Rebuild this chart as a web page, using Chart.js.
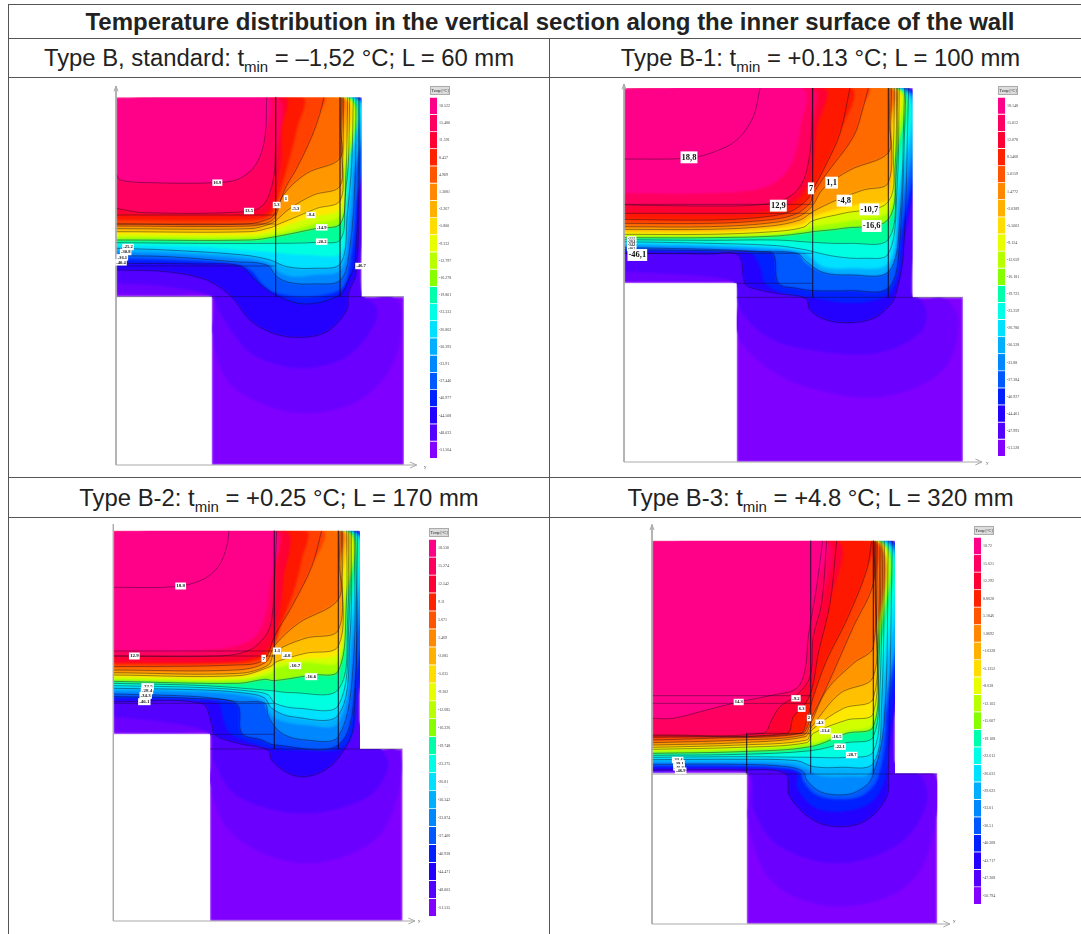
<!DOCTYPE html>
<html>
<head>
<meta charset="utf-8">
<title>Temperature distribution</title>
<script src="https://cdn.jsdelivr.net/npm/chart.js@4"></script>
<style>
  html, body { margin: 0; padding: 0; background: #fff; overflow: hidden; }
  body { width: 1081px; height: 934px; position: relative; font-family: "Liberation Sans", Arial, sans-serif; color: #222; }
  table { position: absolute; left: 8px; top: 4px; width: 1083px; border-collapse: collapse; table-layout: fixed; }
  td { border: 1.5px solid #555; text-align: center; padding: 0; font-size: 23.85px; white-space: nowrap; }
  td.head { font-weight: bold; font-size: 24px; height: 33px; }
  td.sub { height: 38px; }
  td.sub.second { height: 39px; }
  td.plot { height: 399px; }
  td.plot.last { height: 480px; }
  sub { font-size: 15px; line-height: 0; }
  canvas { position: absolute; }
  .field { filter: blur(1px); }
  .lines { filter: blur(0.45px); }
  .scaleName { position: absolute; background: #ddd; border: 0.5px solid #aaa; font: 4px "Liberation Serif", serif; line-height: 7px; height: 7px; width: 18px; text-align: center; filter: blur(0.2px); }
  .axisName { position: absolute; font: 5px "Liberation Serif", serif; color: #555; }
</style>
</head>
<body>
<table>
  <colgroup><col style="width:541px"><col style="width:542px"></colgroup>
  <tr><td class="head" colspan="2">Temperature distribution in the vertical section along the inner surface of the wall</td></tr>
  <tr><td class="sub">Type B, standard: t<sub>min</sub> = –1,52 °C; L = 60 mm</td><td class="sub">Type B-1: t<sub>min</sub> = +0.13 °C; L = 100 mm</td></tr>
  <tr><td class="plot"></td><td class="plot"></td></tr>
  <tr><td class="sub second">Type B-2: t<sub>min</sub> = +0.25 °C; L = 170 mm</td><td class="sub second">Type B-3: t<sub>min</sub> = +4.8 °C; L = 320 mm</td></tr>
  <tr><td class="plot last"></td><td class="plot last"></td></tr>
</table>
<script>
// swatch colours of the temperature scale, warm to cold
const bandColors = ['#ff0088','#ff0060','#ff0034','#ff2200','#ff5500','#ff8800','#ffb000','#ffdd00','#e8ff00','#b8ff00','#88ff00','#00ffaa','#00ffe6','#00e0ff','#00b0ff','#0088ff','#0058ff','#0020ff','#2400ff','#5400ff','#8400ff'];
// same order, but as they look in the field between two traced isotherms
const fieldColors = ['#ff0088','#ff0060','#ff0034','#ff1800','#ff4000','#ff6a00','#ff9800','#ffc000','#ffe800','#d0ff00','#a0ff00','#00ff99','#00ffe0','#00e0ff','#00b0ff','#0088ff','#0058ff','#0020ff','#2400ff','#5400ff','#6c00ff','#8000ff'];

// scale labels next to each colour bar
const p1Scale = ['18.522','15.480','11.591','8.437','4.909','1.3081','-2.267','-5.800','-9.332','-12.797','-16.278','-19.801','-23.333','-26.862','-30.393','-33.91','-37.446','-40.977','-44.508','-48.033','-51.564'];
const p2Scale = ['18.148','15.012','12.078','8.5468','5.0159','1.4772','-2.0389','-5.5003','-9.124','-12.659','-16.181','-19.723','-23.259','-26.780','-30.328','-33.88','-37.384','-40.927','-44.461','-47.993','-51.528'];
const p3Scale = ['18.530','15.274','12.542','9.11','5.671','1.469','-2.085','-5.635','-9.202','-12.685','-16.226','-19.748','-23.275','-26.81','-30.342','-33.874','-37.406','-40.938','-44.471','-48.003','-51.535'];
const p4Scale = ['18.72','15.621','12.292','8.8628','5.1846','1.8692','-1.6328','-5.1352','-8.638','-12.103','-15.607','-19.108','-22.613','-26.033','-29.622','-33.01','-36.51','-40.208','-43.717','-47.208','-50.794'];

// wall and slab outline, isotherm traces (warm to cold) in drawing units
const p1Outline = [[48,52],[785,52],[785,650],[912,650],[912,1155],[335,1155],[335,650],[48,650]];
const p1Isotherms = [
  [[48,280],[60,300],[150,308],[350,308],[420,295],[470,250],[495,170],[500,52]],
  [[48,385],[130,398],[440,395],[490,375],[515,320],[525,250],[527,52]],
  [[48,405],[450,405],[500,398],[520,370],[535,300],[545,230],[545,150],[552,52]],
  [[48,420],[440,420],[505,408],[530,365],[550,300],[570,230],[590,150],[605,52]],
  [[48,432],[440,432],[510,415],[527,395],[558,320],[590,265],[635,170],[660,100],[672,52]],
  [[48,438],[450,438],[510,425],[527,408],[550,345],[620,280],[720,235],[722,150],[724,52]],
  [[48,446],[450,446],[510,432],[527,422],[570,385],[640,345],[720,318],[724,200],[727,52]],
  [[48,455],[450,455],[515,442],[527,436],[590,410],[650,385],[720,362],[728,250],[731,52]],
  [[48,464],[450,464],[520,452],[527,448],[633,412],[720,385],[731,250],[735,52]],
  [[48,472],[450,472],[527,462],[640,432],[722,405],[734,280],[739,52]],
  [[48,480],[450,480],[527,470],[650,445],[722,430],[737,300],[743,52]],
  [[48,488],[300,490],[527,490],[650,487],[722,478],[735,350],[745,250],[749,52]],
  [[48,496],[310,500],[430,510],[527,518],[620,525],[722,518],[738,380],[750,250],[755,52]],
  [[48,505],[200,510],[430,525],[510,540],[560,560],[640,565],[722,550],[742,400],[755,250],[760,52]],
  [[48,515],[200,520],[430,535],[505,550],[535,575],[580,590],[640,585],[722,570],[745,450],[760,300],[764,52]],
  [[48,527],[200,530],[400,545],[500,555],[530,590],[570,608],[640,612],[722,600],[750,500],[765,300],[768,52]],
  [[48,537],[200,540],[400,552],[450,570],[490,615],[530,640],[620,650],[720,630],[745,580],[767,400],[772,52]],
  [[48,550],[300,552],[420,558],[465,600],[527,645],[615,672],[720,645],[745,600],[765,550],[775,300],[775,52]],
  [[48,570],[200,575],[320,600],[395,650],[450,720],[520,760],[600,772],[680,755],[740,690],[745,640],[768,580],[778,300],[778,52]],
  [[48,610],[200,620],[335,650],[360,700],[440,810],[520,850],[620,865],[740,830],[820,740],[830,680],[795,650],[783,600],[782,52]],
  [[48,640],[200,645],[335,650],[335,760],[380,900],[480,970],[620,1000],[780,960],[880,850],[905,700],[880,650],[785,640],[784,52]]
];
const p1Contours = [0,1,4,5,6,7,10,11,13,15,17,18];
const p1Layers = [
  [[527,52],[527,650]],[[720,52],[720,650]],
  [[48,405],[527,405]],[[48,432],[527,432]],[[48,558],[527,558]],[[48,650],[912,650]]
];
const p1Axes = [[[48,18],[48,1155],[950,1155]],[[42,34],[48,18],[54,34]],[[930,1146],[950,1155],[930,1164]]];
const p1LabelX = [352,447,530,558,587,633,665,665,783,84,77,67,63];
const p1LabelY = [308,393,375,355,385,405,442,485,558,501,516,532,547];
const p1LabelText = ['16.9','13.5','5.3','1','-5.3','-8.4','-14.9','-20.2','-46.7','-25.2','-30.8','-36.1','-40.4'];
const p1LabelSize = [4.6,4.6,4.6,4.6,4.6,4.6,4.6,4.6,4.6,4.6,4.6,4.6,4.6];

const p2Outline = [[42,24],[908,24],[908,652],[1059,652],[1059,1146],[380,1146],[380,610],[42,610]];
const p2Isotherms = [
  [[42,340],[300,340],[470,320],[540,260],[570,150],[575,24]],
  [[42,375],[300,378],[440,375],[520,360],[570,320],[595,250],[605,150],[608,24]],
  [[42,400],[300,403],[440,398],[530,378],[580,340],[608,270],[620,150],[640,24]],
  [[42,418],[300,420],[450,412],[540,395],[590,360],[608,330],[650,250],[690,160],[720,24]],
  [[42,430],[300,430],[450,422],[550,405],[600,370],[608,345],[650,280],[730,170],[760,80],[775,24]],
  [[42,440],[300,440],[470,430],[560,412],[605,380],[640,325],[720,270],[835,218],[838,130],[840,24]],
  [[42,448],[300,448],[480,438],[570,420],[608,395],[680,360],[760,330],[835,308],[842,130],[845,24]],
  [[42,456],[300,456],[480,446],[575,432],[608,410],[690,385],[760,370],[835,355],[848,150],[850,24]],
  [[42,463],[300,463],[490,455],[580,442],[608,422],[700,400],[835,365],[850,200],[853,24]],
  [[42,468],[300,468],[500,462],[590,448],[608,440],[700,425],[835,392],[853,200],[856,24]],
  [[42,473],[300,473],[500,468],[590,458],[608,455],[700,445],[835,418],[856,250],[860,24]],
  [[42,479],[300,481],[500,480],[608,487],[720,490],[835,478],[858,300],[863,24]],
  [[42,485],[300,490],[500,497],[590,510],[608,515],[680,530],[760,535],[835,522],[860,350],[868,24]],
  [[42,491],[300,496],[500,505],[580,516],[600,530],[640,560],[720,565],[835,550],[862,380],[873,24]],
  [[42,497],[300,502],[480,510],[560,518],[590,550],[640,575],[720,583],[835,573],[865,420],[878,24]],
  [[42,503],[300,508],[460,515],[560,520],[590,545],[640,578],[720,585],[835,576],[868,440],[884,24]],
  [[42,509],[300,512],[450,516],[490,522],[505,610],[560,625],[608,632],[720,632],[835,625],[868,500],[888,24]],
  [[42,514],[300,516],[420,518],[450,560],[465,610],[520,640],[595,652],[700,668],[800,660],[850,630],[875,520],[892,24]],
  [[42,520],[300,522],[385,525],[405,610],[430,625],[500,640],[588,655],[600,690],[650,720],[720,728],[790,715],[835,680],[855,650],[880,520],[896,24]],
  [[42,575],[300,590],[372,610],[385,680],[470,770],[600,810],[800,820],[930,760],[950,700],[930,655],[908,640],[904,24]],
  [[42,605],[300,608],[380,611],[380,760],[480,870],[620,930],[820,950],[1000,870],[1045,720],[1000,652],[908,650],[906,24]]
];
const p2Contours = [1,3,4,5,6,8,10,11,12,15,16,18];
const p2ExtraLine = [[42,237],[230,235],[300,220],[380,180],[430,110],[450,24]];
const p2Layers = [
  [[608,24],[608,652]],[[835,24],[835,652]],
  [[42,373],[608,373]],[[42,400],[608,400]],[[42,520],[608,520]],[[380,610],[608,610]],[[380,652],[1059,652]]
];
const p2Axes = [[[42,12],[42,1146],[1116,1146]],[[36,28],[42,12],[48,28]],[[1096,1137],[1116,1146],[1096,1155]]];
const p2LabelX = [237,505,603,665,703,778,785,65,65,65,65,82];
const p2LabelY = [232,377,325,308,362,388,438,476,486,496,506,525];
const p2LabelText = ['18,8','12,9','7','1,1','-4,8','-10,7','-16,6','-22,5','-28,4','-34,3','-40,2','-46,1'];
const p2LabelSize = [8.5,8.5,8.5,8.5,8.5,8.5,8.5,3.6,3.6,3.6,3.6,8.5];

const p3Outline = [[25,32],[765,32],[765,687],[893,687],[893,1203],[315,1203],[315,643],[25,643]];
const p3Isotherms = [
  [[25,392],[280,392],[420,370],[470,320],[495,200],[505,32]],
  [[25,408],[340,408],[430,392],[480,350],[500,300],[510,150],[515,32]],
  [[25,428],[380,425],[460,408],[500,370],[520,300],[535,180],[540,32]],
  [[25,433],[385,430],[470,415],[505,380],[530,310],[570,200],[590,120],[600,32]],
  [[25,440],[390,435],[475,420],[510,345],[560,260],[620,140],[650,32]],
  [[25,450],[390,450],[480,428],[510,375],[580,310],[700,238],[703,130],[705,32]],
  [[25,458],[400,460],[490,435],[510,395],[600,355],[700,330],[708,130],[710,32]],
  [[25,465],[400,467],[495,440],[515,425],[600,400],[700,378],[712,170],[713,32]],
  [[25,472],[400,473],[500,447],[510,428],[600,418],[700,397],[715,200],[717,32]],
  [[25,478],[400,480],[500,460],[510,445],[600,428],[700,425],[720,250],[721,32]],
  [[25,484],[400,490],[480,478],[508,482],[620,465],[700,453],[724,250],[725,32]],
  [[25,490],[300,497],[500,512],[560,518],[700,508],[728,300],[730,32]],
  [[25,497],[300,503],[450,515],[490,525],[510,550],[580,565],[700,556],[732,300],[735,32]],
  [[25,505],[300,510],[440,522],[480,535],[500,565],[560,590],[700,585],[735,350],[740,32]],
  [[25,513],[300,517],[420,528],[475,545],[490,575],[520,600],[600,615],[700,610],[738,400],[744,32]],
  [[25,522],[280,530],[400,545],[480,550],[490,590],[530,640],[600,660],[700,650],[745,430],[748,32]],
  [[25,530],[280,536],[395,552],[410,640],[470,660],[508,675],[700,675],[750,500],[752,32]],
  [[25,537],[280,542],[340,550],[355,600],[375,640],[440,670],[500,687],[600,690],[720,680],[755,560],[755,32]],
  [[25,545],[290,550],[320,610],[330,645],[400,670],[490,690],[500,720],[550,760],[600,770],[660,750],[710,700],[745,620],[758,32]],
  [[25,590],[200,610],[315,643],[325,720],[400,830],[600,880],[790,830],[850,740],[830,687],[765,600],[763,32]],
  [[25,635],[200,640],[315,645],[315,800],[390,950],[600,1030],[810,960],[885,800],[880,690],[765,680],[764,32]]
];
const p3Contours = [1,4,5,6,7,10,11,12,13,15,16,18];
const p3ExtraLine = [[25,202],[210,200],[290,180],[340,140],[365,80],[372,32]];
const p3Layers = [
  [[508,32],[508,687]],[[700,32],[700,687]],
  [[25,393],[508,393]],[[25,408],[508,408]],[[25,550],[508,550]],[[315,643],[508,643]],[[315,687],[893,687]]
];
const p3Axes = [[[25,12],[25,1203],[930,1203]],[[910,1194],[930,1203],[910,1212]]];
const p3LabelX = [227,88,476,516,545,570,618,128,126,122,118];
const p3LabelY = [198,408,415,393,406,437,470,500,512,526,545];
const p3LabelText = ['18.8','12.9','7','1.1','-4.8','-10.7','-16.6','-22.5','-28.4','-34.3','-46.1'];
const p3LabelSize = [5,5,5,5,5,5,5,5,5,5,5];

const p4Outline = [[36,62],[765,62],[765,760],[892,760],[892,1212],[320,1212],[320,760],[36,760]];
const p4Isotherms = [
  [[36,595],[100,595],[200,570],[296,546],[400,525],[470,505],[495,450],[505,350],[530,200],[548,62]],
  [[36,645],[370,640],[395,600],[420,560],[470,525],[510,470],[520,350],[545,250],[560,62]],
  [[36,648],[440,640],[460,590],[490,560],[515,510],[535,400],[570,250],[590,62]],
  [[36,652],[480,640],[500,600],[520,530],[560,420],[620,300],[680,150],[695,62]],
  [[36,660],[200,655],[485,640],[510,600],[560,500],[640,320],[700,190],[700,62]],
  [[36,668],[300,660],[490,645],[512,610],[560,510],[640,430],[700,380],[703,62]],
  [[36,675],[300,668],[495,650],[515,620],[600,520],[700,470],[705,200],[706,62]],
  [[36,682],[300,675],[500,660],[515,630],[610,565],[700,535],[707,250],[708,62]],
  [[36,688],[300,682],[500,668],[520,640],[620,600],[700,580],[709,300],[712,62]],
  [[36,694],[300,688],[510,670],[620,635],[700,610],[711,350],[716,62]],
  [[36,700],[300,695],[512,680],[620,640],[700,620],[714,400],[720,62]],
  [[36,706],[300,703],[512,692],[620,668],[700,650],[716,450],[724,62]],
  [[36,712],[300,710],[512,712],[620,712],[700,695],[720,500],[729,62]],
  [[36,719],[300,718],[470,722],[520,740],[600,742],[700,730],[725,550],[734,62]],
  [[36,727],[300,727],[450,732],[500,748],[540,768],[620,770],[690,760],[730,600],[739,62]],
  [[36,733],[300,733],[440,740],[490,755],[500,780],[540,815],[600,825],[650,815],[695,775],[733,600],[745,62]],
  [[36,738],[300,738],[440,745],[480,758],[490,785],[530,825],[600,838],[670,825],[715,770],[738,620],[751,62]],
  [[36,743],[300,744],[430,750],[470,760],[470,800],[520,860],[600,875],[690,850],[735,780],[745,680],[755,62]],
  [[36,750],[300,750],[435,760],[450,830],[520,900],[600,920],[680,900],[740,830],[745,760],[757,62]],
  [[36,757],[320,757],[345,880],[420,980],[600,1030],[780,970],[860,850],[840,762],[765,720],[763,62]],
  [[36,759],[320,759],[322,900],[400,1090],[600,1160],[810,1090],[890,900],[885,762],[765,750],[764,62]]
];
const p4Contours = [0,1,2,3,4,5,6,7,8,10,11,12,13,15,18];
const p4Layers = [
  [[512,62],[512,760]],[[700,62],[700,760]],[[320,640],[320,760]],
  [[36,527],[512,527]],[[36,550],[512,550]],[[320,640],[512,640]],[[36,762],[892,762]]
];
const p4Axes = [[[36,14],[36,1212],[930,1212]],[[30,30],[36,14],[42,30]],[[910,1203],[930,1212],[910,1221]]];
const p4LabelX = [296,468,485,507,540,555,590,600,635,113,117,117,122];
const p4LabelY = [546,535,566,594,608,633,650,680,705,720,730,742,752];
const p4LabelText = ['14.3','-9.2','6.3','2','-4.3','-11.4','-16.5','-22.1','-28.7','-33.4','-39.1','-40.8','-46.9'];
const p4LabelSize = [4.6,4.6,4.6,4.6,4.6,4.6,4.6,4.6,4.6,4.6,4.6,4.6,4.6];

const xy = pts => pts.map(p => ({x: p[0], y: p[1]}));
const curveTension = 0.35;

// white boxed isotherm values, placed through the chart's scales
const contourLabels = {
  id: 'contourLabels',
  afterDatasetsDraw(chart, args, opts) {
    if (!opts.text) return;
    const ctx = chart.ctx;
    ctx.save();
    ctx.textAlign = 'center';
    ctx.textBaseline = 'middle';
    opts.text.forEach((t, i) => {
      const size = opts.sizes[i];
      ctx.font = 'bold ' + size + 'px "Liberation Serif", serif';
      const px = chart.scales.x.getPixelForValue(opts.xs[i]);
      const py = chart.scales.y.getPixelForValue(opts.ys[i]);
      const w = ctx.measureText(t).width + 2;
      ctx.fillStyle = '#fff';
      ctx.fillRect(px - w / 2, py - size * 0.7, w, size * 1.4);
      ctx.fillStyle = '#111';
      ctx.fillText(t, px, py);
    });
    ctx.restore();
  }
};

function sectionChart(cfg, cls, datasets, labelOpts) {
  const box = cfg.box;
  const canvas = document.createElement('canvas');
  canvas.className = cls;
  canvas.width = box[2];
  canvas.height = box[3];
  canvas.style.left = box[0] + 'px';
  canvas.style.top = box[1] + 'px';
  document.body.appendChild(canvas);
  new Chart(canvas, {
    type: 'scatter',
    data: {datasets: datasets},
    plugins: [contourLabels],
    options: {
      responsive: false,
      animation: false,
      events: [],
      layout: {padding: 0, autoPadding: false},
      scales: {
        x: {type: 'linear', display: false, min: (box[0] - cfg.origin[0]) * 3, max: (box[0] + box[2] - cfg.origin[0]) * 3},
        y: {type: 'linear', display: false, reverse: true, min: (box[1] - cfg.origin[1]) * 3, max: (box[1] + box[3] - cfg.origin[1]) * 3}
      },
      plugins: {
        legend: {display: false},
        tooltip: {enabled: false},
        filler: {propagate: false},
        contourLabels: labelOpts
      }
    }
  });
}

function drawField(cfg) {
  const box = cfg.box;
  const filled = (pts, color, order, t) => ({data: xy(pts), showLine: true, fill: 'shape', backgroundColor: color, borderWidth: 0, pointRadius: 0, tension: t, order: order});
  const stroke = (pts, color, width, order, t) => ({data: xy(pts), showLine: true, fill: false, borderColor: color, borderWidth: width, pointRadius: 0, tension: t, order: order});

  // coldest colour is the whole section, warmer polygons go on top of it
  const fills = [filled(cfg.outline, fieldColors[21], 100, 0)];
  const corner = cfg.outline[0];
  cfg.isotherms.forEach((line, i) => {
    fills.push(filled(line.concat([corner]), fieldColors[i], 20 + i, curveTension));
  });
  sectionChart(cfg, 'field', fills, {});

  const lines = [];
  cfg.contours.forEach(i => lines.push(stroke(cfg.isotherms[i], 'rgba(20,10,30,0.65)', 0.65, 10, curveTension)));
  if (cfg.extra) lines.push(stroke(cfg.extra, 'rgba(20,10,30,0.65)', 0.65, 10, curveTension));

  // white sheet with the section cut out, hides whatever runs past the outline
  const xMin = (box[0] - cfg.origin[0]) * 3, xMax = (box[0] + box[2] - cfg.origin[0]) * 3;
  const yMin = (box[1] - cfg.origin[1]) * 3, yMax = (box[1] + box[3] - cfg.origin[1]) * 3;
  const sheet = cfg.outline.concat([corner, [xMin, yMin], [xMin, yMax], [xMax, yMax], [xMax, yMin], [xMin, yMin], corner]);
  lines.push(filled(sheet, '#fff', 5, 0));

  cfg.layers.forEach(l => lines.push(stroke(l, 'rgba(20,10,40,0.6)', 0.7, 4, 0)));
  cfg.axes.forEach(l => lines.push(stroke(l, '#aaa', 1, 3, 0)));
  sectionChart(cfg, 'lines', lines, {xs: cfg.labelX, ys: cfg.labelY, text: cfg.labelText, sizes: cfg.labelSize});
}

function drawScale(left, barTop, barHeight, labels) {
  // chart keeps about 5px above and below the bar for its tick labels
  const top = barTop - 5;
  const canvas = document.createElement('canvas');
  canvas.width = 36;
  canvas.height = barHeight + 10;
  canvas.style.left = left + 'px';
  canvas.style.top = top + 'px';
  canvas.style.filter = 'blur(0.3px)';
  document.body.appendChild(canvas);
  new Chart(canvas, {
    type: 'bar',
    data: {
      labels: ['Temp'],
      datasets: bandColors.map(c => ({data: [1], backgroundColor: c, borderColor: 'rgba(255,255,255,0.7)', borderWidth: {top: 0, bottom: 1, left: 0, right: 0}, barPercentage: 1, categoryPercentage: 1}))
    },
    options: {
      responsive: false,
      animation: false,
      events: [],
      layout: {padding: 0, autoPadding: false},
      scales: {
        x: {stacked: true, display: false},
        y: {
          stacked: true, position: 'right', reverse: true, min: 0, max: 21,
          grid: {display: false, tickLength: 0}, border: {display: false},
          afterFit: s => { s.width = 29; },
          afterBuildTicks: s => { s.ticks = labels.map((_, i) => ({value: i + 0.5})); },
          ticks: {autoSkip: false, padding: 2, font: {size: 4, family: '"Liberation Serif", serif'}, color: '#444', callback: (v, i) => labels[i]}
        }
      },
      plugins: {legend: {display: false}, tooltip: {enabled: false}}
    }
  });
  const name = document.createElement('div');
  name.className = 'scaleName';
  name.textContent = 'Temp [°C]';
  name.style.left = left + 'px';
  name.style.top = (barTop - 12) + 'px';
  document.body.appendChild(name);
}

function axisName(left, top) {
  const s = document.createElement('span');
  s.className = 'axisName';
  s.textContent = 'y';
  s.style.left = left + 'px';
  s.style.top = top + 'px';
  document.body.appendChild(s);
}

drawField({box: [10, 79, 415, 397], origin: [100, 80], outline: p1Outline, isotherms: p1Isotherms, contours: p1Contours, layers: p1Layers, axes: p1Axes, labelX: p1LabelX, labelY: p1LabelY, labelText: p1LabelText, labelSize: p1LabelSize});
drawField({box: [551, 79, 440, 397], origin: [610, 80], outline: p2Outline, isotherms: p2Isotherms, contours: p2Contours, extra: p2ExtraLine, layers: p2Layers, axes: p2Axes, labelX: p2LabelX, labelY: p2LabelY, labelText: p2LabelText, labelSize: p2LabelSize});
drawField({box: [10, 519, 415, 415], origin: [105, 520], outline: p3Outline, isotherms: p3Isotherms, contours: p3Contours, extra: p3ExtraLine, layers: p3Layers, axes: p3Axes, labelX: p3LabelX, labelY: p3LabelY, labelText: p3LabelText, labelSize: p3LabelSize});
drawField({box: [551, 519, 420, 415], origin: [640, 520], outline: p4Outline, isotherms: p4Isotherms, contours: p4Contours, layers: p4Layers, axes: p4Axes, labelX: p4LabelX, labelY: p4LabelY, labelText: p4LabelText, labelSize: p4LabelSize});

drawScale(430, 98, 360, p1Scale);
drawScale(998, 98, 358, p2Scale);
drawScale(429, 540, 376, p3Scale);
drawScale(974, 538, 366, p4Scale);

axisName(424, 464);
axisName(986, 460);
axisName(418, 918);
axisName(953, 918);
</script>
</body>
</html>
